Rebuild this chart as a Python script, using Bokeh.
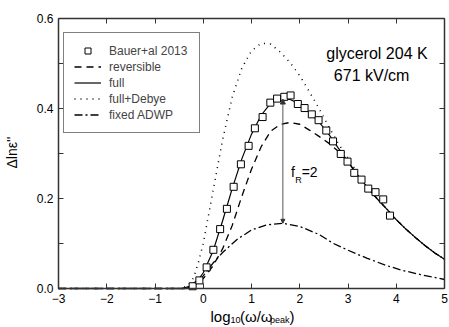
import math
from bokeh.plotting import figure
from bokeh.models import (Legend, LegendItem, LinearAxis, FixedTicker, PrintfTickFormatter,
                          Label, Arrow, NormalHead, Range1d)
from bokeh.embed import file_html
from bokeh.resources import INLINE

# ---- data ----
exp_x = [-0.22, -0.08, 0.07, 0.21, 0.35, 0.49, 0.63, 0.78, 0.94, 1.07, 1.23, 1.39, 1.53, 1.68,
         1.81, 1.96, 2.10, 2.25, 2.39, 2.55, 2.69, 2.85, 2.99, 3.13, 3.28, 3.42, 3.57, 3.73, 3.87]
exp_y = [0.005, 0.018, 0.047, 0.086, 0.132, 0.177, 0.226, 0.276, 0.317, 0.356, 0.381, 0.413,
         0.422, 0.426, 0.429, 0.410, 0.401, 0.387, 0.374, 0.351, 0.327, 0.299, 0.282, 0.257,
         0.242, 0.222, 0.214, 0.198, 0.162]

full_x = [-3.0, -0.45, -0.3, -0.1, 0.0, 0.2, 0.4, 0.6, 0.8, 1.0, 1.2, 1.4, 1.6, 1.8, 2.0, 2.2,
          2.4, 2.6, 2.8, 3.0, 3.2, 3.4, 3.6, 3.8, 4.0, 4.2, 4.4, 4.6, 4.8, 5.0]
full_y = [0.0, 0.0, 0.004, 0.02, 0.035, 0.082, 0.150, 0.222, 0.288, 0.343, 0.385, 0.412, 0.423,
          0.420, 0.410, 0.392, 0.370, 0.343, 0.312, 0.282, 0.252, 0.225, 0.200, 0.177, 0.153,
          0.132, 0.113, 0.095, 0.079, 0.065]

rev_x = [-3.0, -0.35, -0.2, 0.0, 0.2, 0.4, 0.6, 0.8, 1.0, 1.2, 1.4, 1.6, 1.8, 2.0, 2.2, 2.4,
         2.6, 2.8, 3.0, 3.2, 3.4, 3.6, 3.8, 4.0, 4.2, 4.4, 4.6, 4.8, 5.0]
rev_y = [0.0, 0.0, 0.005, 0.022, 0.050, 0.088, 0.140, 0.205, 0.265, 0.315, 0.350, 0.365, 0.369,
         0.365, 0.352, 0.338, 0.323, 0.305, 0.281, 0.252, 0.225, 0.200, 0.177, 0.153, 0.132,
         0.113, 0.095, 0.079, 0.065]

deb_x = [-3.0, -0.45, -0.3, -0.2, -0.1, 0.0, 0.2, 0.4, 0.6, 0.8, 1.0, 1.2, 1.4, 1.6, 1.8, 2.0,
         2.2, 2.4, 2.6, 2.8, 3.0, 3.2, 3.4, 3.6, 3.8, 4.0, 4.2, 4.4, 4.6, 4.8, 5.0]
deb_y = [0.0, 0.0, 0.008, 0.024, 0.058, 0.100, 0.215, 0.330, 0.425, 0.490, 0.528, 0.545, 0.543,
         0.525, 0.502, 0.473, 0.437, 0.400, 0.360, 0.322, 0.290, 0.256, 0.226, 0.200, 0.177,
         0.153, 0.132, 0.113, 0.095, 0.079, 0.065]

adwp_x = [-3.0, -0.35, -0.2, 0.0, 0.2, 0.4, 0.7, 1.0, 1.3, 1.65, 2.0, 2.4, 2.7, 3.0, 3.4, 3.8,
          4.1, 4.5, 5.0]
adwp_y = [0.0, 0.0, 0.006, 0.028, 0.056, 0.080, 0.109, 0.130, 0.141, 0.145, 0.138, 0.120,
          0.100, 0.085, 0.067, 0.051, 0.041, 0.031, 0.020]

arrow_x = 1.65
arrow_y0 = 0.145
arrow_y1 = 0.421

x_min, x_max = -3, 5
y_min, y_max = 0.0, 0.6
x_ticks = [-3, -2, -1, 0, 1, 2, 3, 4, 5]
y_ticks = [0.0, 0.2, 0.4, 0.6]
y_minor = [0.1, 0.3, 0.5]

legend_labels = ["Bauer+al 2013", "reversible", "full", "full+Debye", "fixed ADWP"]

FONT = "Liberation Sans"
FRAME = "#333333"

# The frame fills the whole canvas; the four axes sit at fixed data positions so that
# all titles (incl. the subscripted x title) can be drawn as data-positioned labels.
W, H = 449, 327
left_px, right_px, top_px, bottom_px = 58, 5, 18, 39
sx = (W - left_px - right_px) / (x_max - x_min)
sy = (H - top_px - bottom_px) / (y_max - y_min)

p = figure(width=W, height=H, output_backend="svg", toolbar_location=None,
           x_range=Range1d(x_min - left_px / sx, x_max + right_px / sx),
           y_range=Range1d(y_min - bottom_px / sy, y_max + top_px / sy),
           min_border=0)
p.background_fill_color = "white"
p.border_fill_color = "white"
p.outline_line_color = None
p.xgrid.visible = False
p.ygrid.visible = False

def style(ax, labels=True):
    ax.axis_line_color = FRAME
    ax.axis_line_width = 1.5
    ax.major_tick_in = 5
    ax.major_tick_out = 0
    ax.minor_tick_in = 5
    ax.minor_tick_out = 0
    ax.major_tick_line_color = FRAME
    ax.minor_tick_line_color = FRAME
    ax.major_label_text_font = FONT
    if labels:
        ax.major_label_text_color = "black"
        ax.major_label_text_font_size = "12px"
        ax.major_label_standoff = 5
    else:
        ax.major_label_text_color = None
        ax.major_label_text_font_size = "0px"
        ax.major_label_standoff = 0

def xticker():
    return FixedTicker(ticks=x_ticks)

def yticker():
    return FixedTicker(ticks=y_ticks, minor_ticks=y_minor)

xa = p.xaxis[0]
xa.ticker = xticker()
xa.fixed_location = y_min
xa.bounds = (x_min, x_max)
style(xa)

ya = p.yaxis[0]
ya.ticker = yticker()
ya.fixed_location = x_min
ya.bounds = (y_min, y_max)
ya.formatter = PrintfTickFormatter(format="%.1f")
style(ya)

top = LinearAxis(ticker=xticker(), fixed_location=y_max, bounds=(x_min, x_max))
style(top, labels=False)
p.add_layout(top, "above")
right = LinearAxis(ticker=yticker(), fixed_location=x_max, bounds=(y_min, y_max))
style(right, labels=False)
p.add_layout(right, "right")

r_adwp = p.line(adwp_x, adwp_y, line_color="black", line_width=1.3, line_dash="8 3 2 3")
r_deb = p.line(deb_x, deb_y, line_color="black", line_width=1.5, line_dash="1 5")
r_rev = p.line(rev_x, rev_y, line_color="black", line_width=1.3, line_dash="7 5")
r_full = p.line(full_x, full_y, line_color="black", line_width=1.2)
r_exp = p.scatter(exp_x, exp_y, marker="square", size=7, fill_color="white",
                  line_color="black", line_width=1)

p.add_layout(Arrow(x_start=arrow_x, y_start=arrow_y0, x_end=arrow_x, y_end=arrow_y1,
                   line_color="#555555", line_width=1,
                   end=NormalHead(size=5, fill_color="#333333", line_color="#333333"),
                   start=NormalHead(size=4, fill_color="#333333", line_color="#333333")))

legend = Legend(items=[LegendItem(label=legend_labels[0], renderers=[r_exp]),
                       LegendItem(label=legend_labels[1], renderers=[r_rev]),
                       LegendItem(label=legend_labels[2], renderers=[r_full]),
                       LegendItem(label=legend_labels[3], renderers=[r_deb]),
                       LegendItem(label=legend_labels[4], renderers=[r_adwp])],
                location=(63, 194), label_text_font=FONT, label_text_font_size="12px",
                glyph_width=27, glyph_height=15, label_height=15, label_width=80,
                label_standoff=8, spacing=1, padding=10,
                border_line_color="black", border_line_width=1,
                background_fill_color="white", background_fill_alpha=1)
p.add_layout(legend, "center")

def lab(x, y, t, size, align="left", base="alphabetic", angle=0.0):
    p.add_layout(Label(x=x, y=y, text=t, text_font=FONT, text_font_size=size,
                       text_align=align, text_baseline=base, text_color="black",
                       angle=angle))

lab(3.60, 0.522, "glycerol 204 K", "16px", "center", "middle")
lab(3.49, 0.473, "671 kV/cm", "16px", "center", "middle")
lab(1.82, 0.258, "f", "14px", "left", "middle")
lab(1.905, 0.242, "R", "9px", "left", "middle")
lab(2.04, 0.258, "=2", "14px", "left", "middle")

# y axis title (rotated)
lab(-3.955, 0.302, "\u0394ln\u03b5''", "14px", "center", "middle", math.pi / 2)

# x axis title built from pieces (subscripts)
lab(0.15, -0.0622, "log", "15px")
lab(0.565, -0.0711, "10", "9px")
lab(0.76, -0.0622, "(\u03c9/\u03c9", "15px")
lab(1.385, -0.0711, "peak", "9px")
lab(1.79, -0.0622, ")", "15px")

open("out.html", "w").write(file_html(p, INLINE))
